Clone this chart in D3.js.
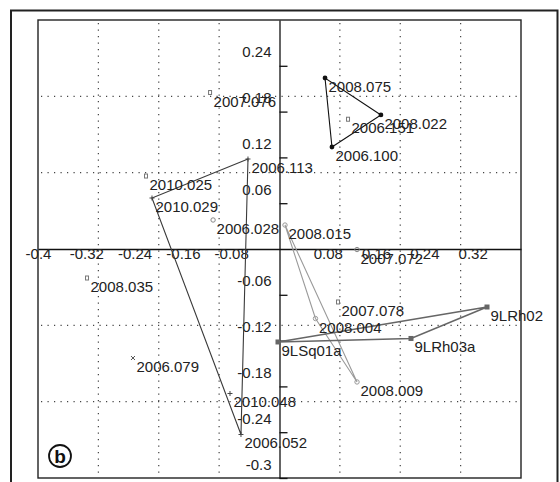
<!DOCTYPE html>
<html>
<head>
<meta charset="utf-8">
<script src="https://cdn.jsdelivr.net/npm/d3@7/dist/d3.min.js"></script>
<style>
  html, body { margin: 0; padding: 0; background: #fff; }
  svg { display: block; }
  text { font-family: "Liberation Sans", Arial, sans-serif; }
</style>
</head>
<body>
<svg id="chart" width="560" height="482"></svg>
<script>
// Sample names and their scores on the first two components
const names = ["2007.076", "2008.075", "2008.022", "2006.151", "2006.100",
               "2006.113", "2010.029", "2006.052", "2010.048", "2010.025",
               "2006.028", "2008.015", "2007.072", "2008.035", "2006.079",
               "2007.078", "2008.004", "2008.009", "9LRh02", "9LRh03a", "9LSq01a"];
const comp1 = [-0.115, 0.0754, 0.168, 0.1135, 0.0869,
               -0.0522, -0.2112, -0.0638, -0.082, -0.2211,
               -0.110, 0.0091, 0.1284, -0.3188, -0.2427,
               0.0969, 0.0596, 0.1284, 0.3437, 0.2178, -0.0025];
const comp2 = [0.205, 0.224, 0.1756, 0.170, 0.1336,
               0.1179, 0.0668, -0.243, -0.1893, 0.0956,
               0.038, 0.0314, -0.0007, -0.038, -0.1428,
               -0.0694, -0.0911, -0.1742, -0.076, -0.1172, -0.1218];
// Group membership of each sample
const groupIds = ["sq", "A", "A", "sq", "A",
                  "B", "B", "B", "B", "sq",
                  "ci", "C", "ci", "sq", "x",
                  "sq", "C", "C", "D", "D", "D"];
// Groups that get a convex hull
const hullGroups = ["A", "B", "C", "D"];

// Axis tick values and their printed labels
const xTicks = [-0.4, -0.32, -0.24, -0.16, -0.08, 0.08, 0.16, 0.24, 0.32];
const xTickLabels = ["-0.4", "-0.32", "-0.24", "-0.16", "-0.08", "0.08", "0.16", "0.24", "0.32"];
const yTicks = [0.24, 0.18, 0.12, 0.06, -0.06, -0.12, -0.18, -0.24, -0.3];
const yTickLabels = ["0.24", "0.18", "0.12", "0.06", "-0.06", "-0.12", "-0.18", "-0.24", "-0.3"];
// Dotted grid positions
const xGrid = [-0.3, -0.2, -0.1, 0.1, 0.2, 0.3];
const yGrid = [-0.2, -0.1, 0.1, 0.2];

// Drawing style per group
const groupStyle = {
  A:  { marker: "dot",    color: "#111", line: "#111", lw: 1.1 },
  B:  { marker: "plus",   color: "#444", line: "#3a3a3a", lw: 1.1 },
  C:  { marker: "circle", color: "#999", line: "#9a9a9a", lw: 1.1 },
  D:  { marker: "square", color: "#666", line: "#666", lw: 1.6 },
  sq: { marker: "rect",   color: "#777" },
  ci: { marker: "circle", color: "#888" },
  x:  { marker: "cross",  color: "#555" }
};

const svg = d3.select("#chart");

const x = d3.scaleLinear().domain([-0.4, 0.4]).range([38, 521]);
const y = d3.scaleLinear().domain([-0.3, 0.3]).range([478, 20]);

// Outer panel frame
svg.append("path")
  .attr("d", "M11,490V10.5H557.5V490")
  .attr("fill", "none").attr("stroke", "#222").attr("stroke-width", 2);

// Plot box
svg.append("rect")
  .attr("x", x(-0.4)).attr("y", y(0.3))
  .attr("width", x(0.4) - x(-0.4)).attr("height", y(-0.3) - y(0.3))
  .attr("fill", "none").attr("stroke", "#222").attr("stroke-width", 1.4);

// Dotted grid
const grid = svg.append("g").attr("stroke", "#444").attr("stroke-width", 1.2)
  .attr("stroke-dasharray", "1.2 5.3");
grid.selectAll("line.vx").data(xGrid).join("line")
  .attr("x1", d => x(d)).attr("x2", d => x(d))
  .attr("y1", y(0.3) + 3).attr("y2", y(-0.3));
grid.selectAll("line.hy").data(yGrid).join("line")
  .attr("y1", d => y(d)).attr("y2", d => y(d))
  .attr("x1", x(-0.4) + 3).attr("x2", x(0.4));

// Horizontal axis through zero
const gx = svg.append("g").attr("transform", `translate(0,${y(0)})`)
  .call(d3.axisBottom(x).tickValues(xTicks).tickSize(0).tickSizeOuter(0)
    .tickFormat((d, i) => xTickLabels[i]));
gx.select(".domain").attr("stroke", "#111").attr("stroke-width", 1.3);
gx.selectAll("text").attr("y", 9.5).attr("dy", 0)
  .attr("font-size", 15).attr("fill", "#222")
  .attr("font-family", "'Liberation Sans', Arial, sans-serif");

// Vertical axis through zero
const gy = svg.append("g").attr("transform", `translate(${x(0)},0)`)
  .call(d3.axisRight(y).tickValues(yTicks).tickSize(8).tickSizeOuter(0)
    .tickFormat((d, i) => yTickLabels[i]));
gy.select(".domain").attr("stroke", "#111").attr("stroke-width", 1.3);
gy.selectAll(".tick line").attr("stroke", "#111").attr("stroke-width", 1.3);
gy.selectAll("text").attr("x", -8).attr("y", -9).attr("dy", 0)
  .attr("text-anchor", "end")
  .attr("font-size", 15).attr("fill", "#222")
  .attr("font-family", "'Liberation Sans', Arial, sans-serif");

// Samples as records
const pts = names.map((n, i) => ({ name: n, px: x(comp1[i]), py: y(comp2[i]), g: groupIds[i] }));

// Convex hulls
const hullLine = d3.line().curve(d3.curveLinearClosed);
hullGroups.forEach(g => {
  const members = pts.filter(p => p.g === g).map(p => [p.px, p.py]);
  const hull = d3.polygonHull(members);
  if (!hull) return;
  svg.append("path")
    .attr("d", hullLine(hull))
    .attr("fill", "none")
    .attr("stroke", groupStyle[g].line)
    .attr("stroke-width", groupStyle[g].lw);
});

// Markers
const mk = svg.append("g");
pts.forEach(p => {
  const s = groupStyle[p.g];
  const c = s.color;
  if (s.marker === "dot") {
    mk.append("circle").attr("cx", p.px).attr("cy", p.py).attr("r", 2.4).attr("fill", c);
  } else if (s.marker === "plus") {
    mk.append("path").attr("d", `M${p.px - 2.5},${p.py}h5M${p.px},${p.py - 2.5}v5`)
      .attr("stroke", c).attr("stroke-width", 1);
  } else if (s.marker === "cross") {
    mk.append("path").attr("d", `M${p.px - 2},${p.py - 2}l4,4M${p.px + 2},${p.py - 2}l-4,4`)
      .attr("stroke", c).attr("stroke-width", 1);
  } else if (s.marker === "circle") {
    mk.append("circle").attr("cx", p.px).attr("cy", p.py).attr("r", 2.2)
      .attr("fill", "none").attr("stroke", c).attr("stroke-width", 1);
  } else if (s.marker === "square") {
    mk.append("rect").attr("x", p.px - 2.5).attr("y", p.py - 2.5).attr("width", 5).attr("height", 5)
      .attr("fill", c);
  } else {
    mk.append("rect").attr("x", p.px - 1.5).attr("y", p.py - 2).attr("width", 3).attr("height", 4)
      .attr("fill", "none").attr("stroke", c).attr("stroke-width", 1);
  }
});

// Sample labels
svg.append("g").selectAll("text").data(pts).join("text")
  .attr("x", d => d.px + 3.5).attr("y", d => d.py + 14)
  .attr("font-size", 15).attr("fill", "#222")
  .text(d => d.name);

// Panel letter
svg.append("circle").attr("cx", 60).attr("cy", 456).attr("r", 11)
  .attr("fill", "#fff").attr("stroke", "#111").attr("stroke-width", 1.8);
svg.append("text").attr("x", 60).attr("y", 462.5)
  .attr("text-anchor", "middle").attr("font-size", 19).attr("font-weight", "bold")
  .attr("fill", "#111").text("b");
</script>
</body>
</html>
